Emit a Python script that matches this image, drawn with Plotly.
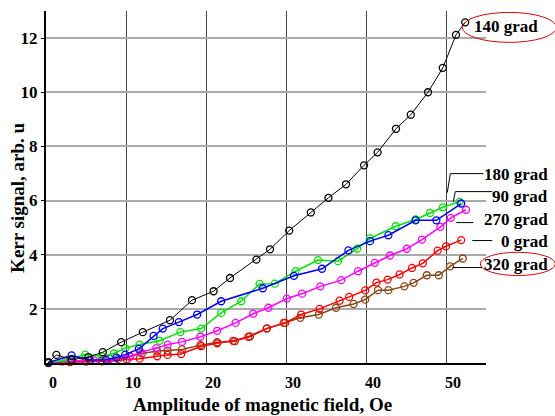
import plotly.graph_objects as go

# ---- data ----
x_140 = [0.3, 1.3, 3.2, 5.3, 7.1, 9.4, 12.1, 15.5, 18.25, 20.95, 23.0, 26.3, 28.0, 30.4, 33.1,
         35.3, 37.5, 39.75, 41.45, 43.75, 45.6, 47.75, 49.6, 51.25, 52.4]
y_140 = [0.02, 0.3, 0.12, 0.22, 0.4, 0.77, 1.14, 1.58, 2.32, 2.65, 3.14, 3.82, 4.2, 4.89, 5.56,
         6.1, 6.6, 7.3, 7.78, 8.65, 9.17, 10.0, 10.9, 12.12, 12.58]

x_90 = [0.3, 3.2, 5.5, 7.5, 8.8, 9.9, 11.6, 13.45, 14.6, 16.6, 18.9, 21.9, 27.1, 31.0, 34.5,
        37.8, 40.5, 42.8, 46.2, 48.8, 51.9]
y_90 = [0.02, 0.28, 0.1, 0.12, 0.2, 0.31, 0.52, 1.0, 1.27, 1.51, 1.79, 2.28, 2.76, 3.22, 3.48,
        4.16, 4.5, 4.72, 5.27, 5.27, 5.89]

x_180 = [0.3, 2.5, 4.9, 7.0, 8.5, 9.9, 11.7, 14.2, 16.8, 19.4, 21.9, 24.4, 26.7, 28.6, 31.2,
         34.0, 36.5, 38.9, 40.5, 43.7, 46.2, 48.0, 49.6, 51.7]
y_180 = [0.02, 0.1, 0.31, 0.25, 0.35, 0.55, 0.68, 0.82, 1.14, 1.27, 1.85, 2.28, 2.92, 2.93, 3.39,
         3.8, 3.76, 4.22, 4.6, 5.05, 5.3, 5.54, 5.75, 5.95]

x_270 = [0.3, 2.0, 4.0, 6.0, 8.0, 10.5, 11.8, 13.8, 15.2, 17.0, 19.3, 21.4, 23.7, 25.9, 27.8,
         30.1, 32.0, 34.3, 36.9, 39.0, 41.1, 43.0, 45.1, 47.0, 49.3, 50.6, 52.5]
y_270 = [0.02, 0.05, 0.08, 0.1, 0.15, 0.23, 0.4, 0.55, 0.68, 0.78, 0.97, 1.19, 1.48, 1.82, 2.04,
         2.38, 2.56, 2.83, 3.06, 3.39, 3.7, 3.97, 4.22, 4.56, 5.03, 5.36, 5.66]

x_0 = [0.3, 3.0, 5.0, 7.0, 8.5, 10.1, 11.7, 13.9, 15.2, 16.9, 19.4, 21.4, 23.4, 25.3, 27.6,
       29.9, 31.9, 34.2, 36.7, 37.9, 39.9, 41.3, 42.7, 44.2, 45.75, 47.1, 48.95, 50.0, 51.9]
y_0 = [0.0, 0.03, 0.05, 0.06, 0.08, 0.13, 0.16, 0.25, 0.3, 0.33, 0.62, 0.73, 0.82, 0.97, 1.28,
       1.48, 1.79, 2.0, 2.3, 2.44, 2.68, 2.97, 3.08, 3.27, 3.51, 3.68, 4.15, 4.31, 4.54]

x_320 = [0.3, 3.0, 5.0, 7.0, 9.0, 10.5, 12.0, 13.9, 15.2, 17.0, 19.3, 21.4, 23.6, 25.5, 27.6,
         29.7, 31.8, 34.1, 36.25, 38.45, 39.9, 41.5, 42.8, 44.8, 45.95, 47.6, 49.1, 50.5, 52.1]
y_320 = [0.02, 0.05, 0.08, 0.1, 0.15, 0.25, 0.35, 0.44, 0.46, 0.5, 0.66, 0.77, 0.8, 0.98, 1.27,
         1.48, 1.67, 1.79, 2.04, 2.18, 2.34, 2.69, 2.69, 2.83, 2.96, 3.24, 3.24, 3.57, 3.86]

x_ticks = [0, 10, 20, 30, 40, 50]
y_ticks = [2, 4, 6, 8, 10, 12]

x_title = "Amplitude of magnetic field, Oe"
y_title = "Kerr signal, arb. u"

FONT = "Liberation Serif, Times New Roman, serif"

series = [
    ("320 grad", x_320, y_320, "#8B4513", 1.5),
    ("0 grad", x_0, y_0, "#FF0000", 1.5),
    ("270 grad", x_270, y_270, "#FF00FF", 1.5),
    ("180 grad", x_180, y_180, "#00E600", 1.5),
    ("90 grad", x_90, y_90, "#0000FF", 1.5),
    ("140 grad", x_140, y_140, "#000000", 1.0),
]

fig = go.Figure()
for name, xs, ys, col, lw in series:
    fig.add_trace(go.Scatter(
        x=xs, y=ys, name=name, mode="lines+markers",
        line=dict(color=col, width=lw),
        marker=dict(symbol="circle-open", size=7, color=col, line=dict(width=1.3, color=col)),
        showlegend=False, cliponaxis=False,
    ))

L, R, T, B = 45.7, 485.7, 11.3, 363.5
W, H = 555, 416


def px(xp):
    return (xp - L) / (R - L)


def py(yp):
    return (B - yp) / (B - T)


# leader lines for the labels
leaders = [
    [(483, 174), (450, 174), (447, 193)],
    [(492, 192), (455, 192), (453, 202)],
    [(473, 223), (456, 223)],
    [(492, 241), (472, 241)],
    [(482, 268), (452, 268)],
]
for pts in leaders:
    path = "M " + " L ".join(f"{px(a):.4f},{py(b):.4f}" for a, b in pts)
    fig.add_shape(type="path", path=path, xref="paper", yref="paper",
                  line=dict(color="black", width=1))

# red ellipses
for (x0, y0, x1, y1) in [(462, 12.7, 556, 42.7), (480, 252.7, 555, 276)]:
    fig.add_shape(type="circle", xref="paper", yref="paper",
                  x0=px(x0), x1=px(x1), y0=py(y1), y1=py(y0),
                  line=dict(color="#E00000", width=1))

labels = [
    ("140 grad", 505.5, 26.7, "center"),
    ("180 grad", 550, 175, "right"),
    ("90 grad", 550, 197, "right"),
    ("270 grad", 550, 220, "right"),
    ("0 grad", 550, 242, "right"),
    ("320 grad", 550, 265, "right"),
]
for txt, xa, ya, anc in labels:
    fig.add_annotation(text=txt, xref="paper", yref="paper", x=px(xa), y=py(ya),
                       xanchor=anc, yanchor="middle", showarrow=False,
                       font=dict(family=FONT, size=17, color="black", weight="bold"))

# axis titles
fig.add_annotation(text=x_title, xref="paper", yref="paper", x=px(262), y=py(405),
                   xanchor="center", yanchor="middle", showarrow=False,
                   font=dict(family=FONT, size=19, color="black", weight="bold"))
fig.add_annotation(text=y_title, xref="paper", yref="paper", x=px(17), y=py(198),
                   xanchor="center", yanchor="middle", showarrow=False, textangle=-90,
                   font=dict(family=FONT, size=19, color="black", weight="bold"))

fig.update_layout(
    width=W, height=H,
    margin=dict(l=L, r=W - R, t=T, b=H - B, pad=0, autoexpand=False),
    paper_bgcolor="white", plot_bgcolor="white",
    font=dict(family=FONT, size=17, color="black", weight="bold"),
    xaxis=dict(
        range=[0, 55], tickvals=x_ticks, ticktext=[str(v) for v in x_ticks],
        showgrid=True, gridcolor="#444444", gridwidth=1.3,
        showline=True, linecolor="black", linewidth=2, zeroline=False,
        ticks="", ticklabelshift=7, ticklabelstandoff=4, automargin=False,
        tickfont=dict(family=FONT, size=16, color="black", weight="bold"),
    ),
    yaxis=dict(
        range=[0, 13], tickvals=y_ticks, ticktext=[str(v) for v in y_ticks],
        showgrid=True, gridcolor="#AAAAAA", gridwidth=2,
        showline=True, linecolor="black", linewidth=2, zeroline=False,
        ticks="outside", ticklen=3, tickcolor="black", tickwidth=1, automargin=False,
        tickfont=dict(family=FONT, size=17, color="black", weight="bold"),
    ),
)

fig.write_html("out.html")
